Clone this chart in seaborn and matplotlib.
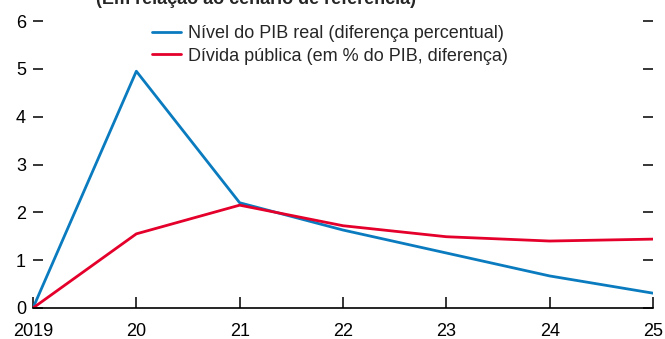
import matplotlib
matplotlib.use("Agg")
import matplotlib.pyplot as plt
import seaborn as sns
import pandas as pd
from matplotlib import font_manager

years = [2019, 2020, 2021, 2022, 2023, 2024, 2025]
year_labels = ["2019", "20", "21", "22", "23", "24", "25"]
pib_real = [0.0, 4.95, 2.20, 1.63, 1.15, 0.67, 0.31]
divida_publica = [0.0, 1.55, 2.15, 1.72, 1.49, 1.40, 1.44]
series_names = ["Nível do PIB real (diferença percentual)",
                "Dívida pública (em % do PIB, diferença)"]
title = "(Em relação ao cenário de referência)"

sns.set_theme(style="white")
names = {f.name for f in font_manager.fontManager.ttflist}
family = "Liberation Sans Narrow" if "Liberation Sans Narrow" in names else "Liberation Sans"
plt.rcParams["font.family"] = [family, "DejaVu Sans"]

df = pd.DataFrame({
    "ano": years * 2,
    "valor": pib_real + divida_publica,
    "serie": [series_names[0]] * len(years) + [series_names[1]] * len(years),
})

fig = plt.figure(figsize=(6.65, 3.39), dpi=100)
ax = fig.add_axes([33 / 665, 31 / 339, 620 / 665, 287 / 339])

sns.lineplot(data=df, x="ano", y="valor", hue="serie",
             palette=["#0a7bbf", "#e4002b"], linewidth=2.0, ax=ax)

ax.set_xlim(2019, 2025)
ax.set_ylim(0, 6)
ax.set_xticks(years)
ax.set_xticklabels(year_labels)
ax.set_yticks(range(0, 7))
ax.set_xlabel("")
ax.set_ylabel("")

for side in ["left", "right", "top"]:
    ax.spines[side].set_visible(False)
ax.spines["bottom"].set_color("black")
ax.spines["bottom"].set_linewidth(1.2)

ax.tick_params(axis="x", direction="in", length=8, width=1.1, color="black",
               labelsize=13, pad=11, bottom=True)
ax.tick_params(axis="y", direction="in", length=7, width=1.1, color="black",
               labelsize=13, pad=5, left=True, right=True)
for lbl in ax.get_xticklabels() + ax.get_yticklabels():
    lbl.set_color("black")

leg = ax.legend(loc="upper left", bbox_to_anchor=(0.18, 1.01), frameon=False,
                fontsize=13, handlelength=1.6, handletextpad=0.4,
                labelspacing=0.3, borderaxespad=0.0)

fig.text(0.145, 1.0, title, fontsize=13, fontweight="bold", ha="left",
         va="center")

fig.savefig("out.png", dpi=100)
